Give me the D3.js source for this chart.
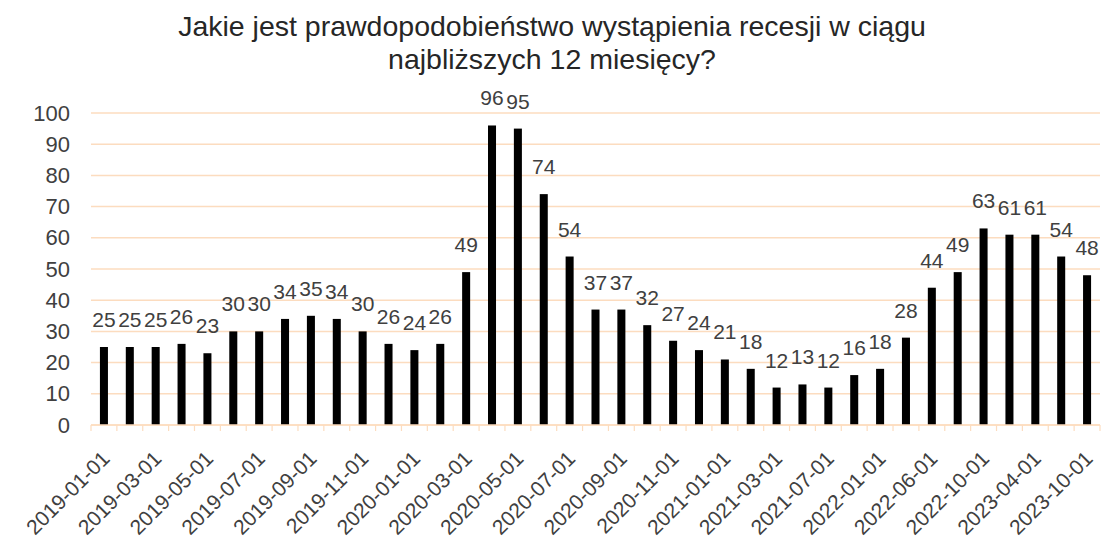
<!DOCTYPE html>
<html>
<head>
<meta charset="utf-8">
<script src="https://cdn.jsdelivr.net/npm/d3@7"></script>
<style>
	body { margin: 0; background: #fff; }
	svg { display: block; font-family: "Liberation Sans", Arial, sans-serif; }
</style>
</head>
<body>
<svg width="1101" height="544"></svg>
<script>
// dates for every bar (odd ones are not printed on the axis)
let dates = [
	'2019-01-01', '2019-02-01', '2019-03-01', '2019-04-01', '2019-05-01', '2019-06-01',
	'2019-07-01', '2019-08-01', '2019-09-01', '2019-10-01', '2019-11-01', '2019-12-01',
	'2020-01-01', '2020-02-01', '2020-03-01', '2020-04-01', '2020-05-01', '2020-06-01',
	'2020-07-01', '2020-08-01', '2020-09-01', '2020-10-01', '2020-11-01', '2020-12-01',
	'2021-01-01', '2021-02-01', '2021-03-01', '2021-05-01', '2021-07-01', '2021-10-01',
	'2022-01-01', '2022-04-01', '2022-06-01', '2022-08-01', '2022-10-01', '2023-01-01',
	'2023-04-01', '2023-07-01', '2023-10-01'
]
let values = [
	25, 25, 25, 26, 23, 30, 30, 34, 35, 34, 30, 26, 24, 26, 49, 96, 95, 74, 54, 37,
	37, 32, 27, 24, 21, 18, 12, 13, 12, 16, 18, 28, 44, 49, 63, 61, 61, 54, 48
]
let yTicks = [0, 10, 20, 30, 40, 50, 60, 70, 80, 90, 100]
let titleLines = ['Jakie jest prawdopodobieństwo wystąpienia recesji w ciągu', 'najbliższych 12 miesięcy?']

let svg = d3.select('svg')
let margin = {left: 91, right: 1, top: 113, bottom: 119}
let width = 1101, height = 544

let x = d3.scaleBand()
	.domain(dates)
	.range([margin.left, width - margin.right])
	.paddingInner(0.69)
	.paddingOuter(0.345)

let y = d3.scaleLinear()
	.domain([0, 100])
	.range([height - margin.bottom, margin.top])

let gridColor = '#fcdcbf'
let textColor = '#404040'

// title
svg.append('text')
	.attr('text-anchor', 'middle')
	.attr('font-size', 28.5)
	.attr('fill', '#262626')
	.selectAll('tspan')
	.data(titleLines)
	.join('tspan')
	.attr('x', 552)
	.attr('y', (d, i) => 36 + i * 33)
	.text(d => d)

// gridlines
svg.append('g')
	.selectAll('line')
	.data(yTicks)
	.join('line')
	.attr('x1', margin.left)
	.attr('x2', width - margin.right)
	.attr('y1', d => y(d))
	.attr('y2', d => y(d))
	.attr('stroke', gridColor)
	.attr('stroke-width', 1.5)

// y axis labels
let yAxis = svg.append('g')
	.attr('transform', 'translate(' + (margin.left - 21) + ',0)')
	.call(d3.axisLeft(y).tickValues(yTicks).tickSize(0).tickPadding(0))
yAxis.select('.domain').remove()
yAxis.selectAll('text')
	.attr('font-size', 22)
	.attr('fill', textColor)
	.attr('font-family', '"Liberation Sans", Arial, sans-serif')

// bars
svg.append('g')
	.selectAll('rect')
	.data(values)
	.join('rect')
	.attr('x', (d, i) => x(dates[i]))
	.attr('width', x.bandwidth())
	.attr('y', d => y(d))
	.attr('height', d => y(0) - y(d))
	.attr('fill', '#000')

// x axis: line + ticks at category boundaries
let step = x.step()
let boundaries = d3.range(dates.length + 1).map(i => margin.left + i * step)
svg.append('line')
	.attr('x1', margin.left)
	.attr('x2', width - margin.right)
	.attr('y1', y(0))
	.attr('y2', y(0))
	.attr('stroke', gridColor)
	.attr('stroke-width', 1.5)
svg.append('g')
	.selectAll('line')
	.data(boundaries)
	.join('line')
	.attr('x1', d => d)
	.attr('x2', d => d)
	.attr('y1', y(0))
	.attr('y2', y(0) + 6)
	.attr('stroke', gridColor)
	.attr('stroke-width', 1.2)

// x labels, every second date
svg.append('g')
	.selectAll('text')
	.data(dates.filter((d, i) => i % 2 == 0))
	.join('text')
	.attr('transform', d => 'translate(' + (x(d) + x.bandwidth() / 2 + 7) + ',' + (y(0) + 35) + ') rotate(-45)')
	.attr('text-anchor', 'end')
	.attr('font-size', 21)
	.attr('fill', textColor)
	.text(d => d)

// value labels
svg.append('g')
	.selectAll('text')
	.data(values)
	.join('text')
	.attr('x', (d, i) => x(dates[i]) + x.bandwidth() / 2)
	.attr('y', d => y(d) - 20)
	.attr('text-anchor', 'middle')
	.attr('font-size', 21)
	.attr('fill', textColor)
	.text(d => d)
</script>
</body>
</html>
